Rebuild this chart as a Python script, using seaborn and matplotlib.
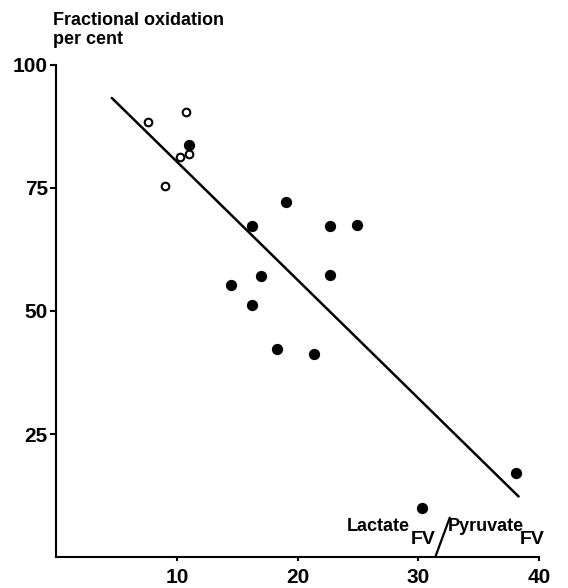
import matplotlib
matplotlib.use("Agg")
import matplotlib.pyplot as plt
import seaborn as sns
import pandas as pd

# ---- data ----
open_x = [7.6, 10.75, 11.0, 10.25, 9.0]
open_y = [88.4, 90.5, 82.0, 81.2, 75.4]

filled_x = [11.0, 19.0, 16.2, 22.7, 24.9, 17.0, 14.5, 22.7, 16.2, 18.3, 21.35, 30.3, 38.1]
filled_y = [83.7, 72.2, 67.2, 67.2, 67.4, 57.1, 55.3, 57.3, 51.2, 42.2, 41.3, 10.0, 17.1]

line_x = [4.6, 38.3]
line_y = [93.3, 12.3]

x_ticks = [10, 20, 30, 40]
y_ticks = [25, 50, 75, 100]

sns.set_style("ticks")
plt.rcParams["font.family"] = ["Liberation Sans", "DejaVu Sans"]
plt.rcParams["text.color"] = "black"
plt.rcParams["xtick.color"] = "black"
plt.rcParams["ytick.color"] = "black"
plt.rcParams["axes.edgecolor"] = "black"

fig = plt.figure(figsize=(5.68, 5.88), dpi=100)
ax = fig.add_axes([0.0991, 0.0527, 0.8500, 0.8368])

df_open = pd.DataFrame({"x": open_x, "y": open_y})
df_fill = pd.DataFrame({"x": filled_x, "y": filled_y})
df_line = pd.DataFrame({"x": line_x, "y": line_y})

sns.lineplot(data=df_line, x="x", y="y", ax=ax, color="black", linewidth=1.8)
sns.scatterplot(data=df_fill, x="x", y="y", ax=ax, color="black", s=66,
                edgecolor="black", linewidth=0, zorder=3)
sns.scatterplot(data=df_open, x="x", y="y", ax=ax, facecolor="white", s=30,
                edgecolor="black", linewidth=1.5, zorder=4)

ax.set_xlim(0, 40)
ax.set_ylim(0, 100)
ax.set_xticks(x_ticks)
ax.set_yticks(y_ticks)
ax.set_xticklabels([str(v) for v in x_ticks])
ax.set_yticklabels([str(v) for v in y_ticks])
ax.set_xlabel("")
ax.set_ylabel("")
sns.despine(ax=ax)
for sp in ("left", "bottom"):
    ax.spines[sp].set_linewidth(1.5)
    ax.spines[sp].set_color("black")
ax.tick_params(axis="both", width=1.5, labelsize=15, colors="black")
ax.tick_params(axis="x", length=3, pad=5)
ax.tick_params(axis="y", length=4.5, pad=1.5)
for lab in ax.get_xticklabels() + ax.get_yticklabels():
    lab.set_fontweight("bold")

fig.text(53 / 568, 1 - 12 / 588, "Fractional oxidation\nper cent",
         ha="left", va="top", fontsize=13, fontweight="bold", linespacing=1.15)

# axis label: Lactate_FV / Pyruvate_FV
lab_kw = dict(fontsize=13, fontweight="bold", va="baseline", ha="left")
sub_kw = dict(fontsize=14, fontweight="bold", va="baseline", ha="left")
ax.text(24.06, 5.2, "Lactate", **lab_kw)
ax.text(29.4, 2.65, "FV", **sub_kw)
ax.annotate("", xy=(31.4, 0.0), xytext=(32.6, 8.0),
            arrowprops=dict(arrowstyle="-", lw=1.6, color="black",
                            shrinkA=0, shrinkB=0))
ax.text(32.45, 5.2, "Pyruvate", **lab_kw)
ax.text(38.4, 2.65, "FV", **sub_kw)

fig.savefig("out.png", dpi=100)
